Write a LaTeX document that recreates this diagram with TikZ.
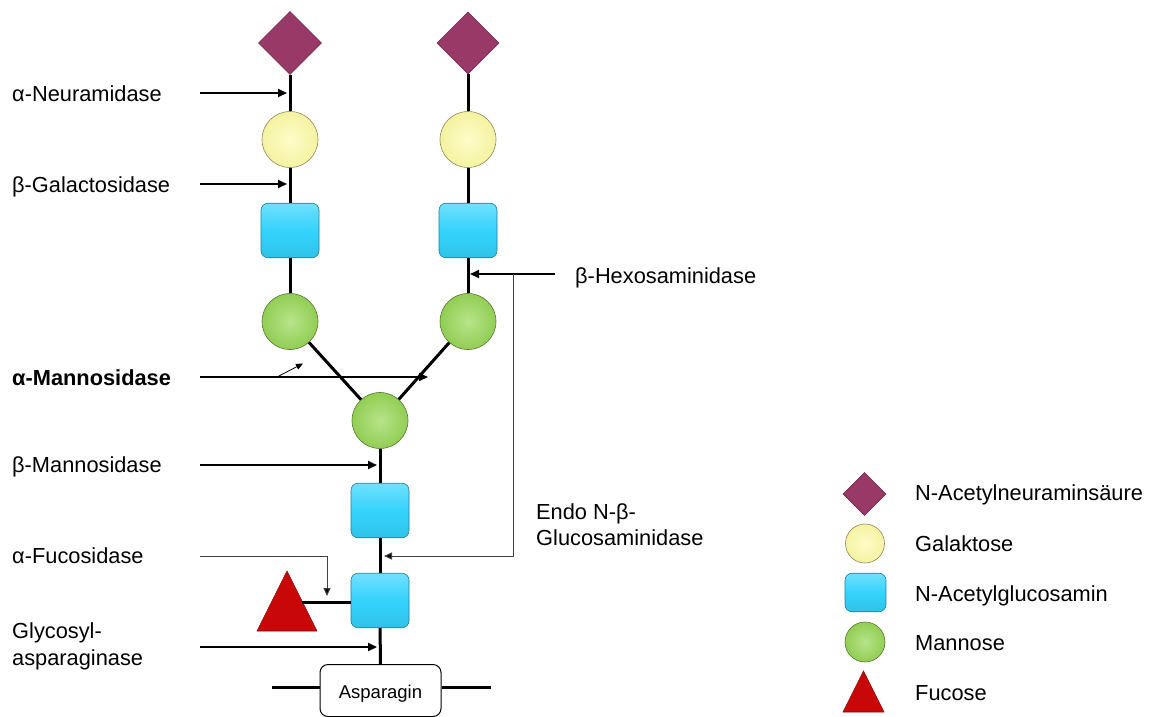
\documentclass[tikz,border=0pt]{standalone}
\usepackage{fontspec}
\setmainfont{Liberation Sans}
\usetikzlibrary{shapes.geometric,arrows.meta}
\definecolor{neu}{RGB}{152,57,104}
\definecolor{gal}{RGB}{252,250,165}
\definecolor{glc}{RGB}{52,211,252}
\definecolor{man}{RGB}{153,216,88}
\definecolor{fuc}{RGB}{200,8,8}
\tikzset{
  lbl/.style={anchor=base west,inner sep=0pt,font=\fontsize{21.8}{25}\selectfont},
  nacneu/.style={diamond,aspect=1,minimum width=#1,minimum height=#1,inner sep=0pt,fill=neu,draw=neu!80!black,line width=0.6pt},
  galball/.style={circle,minimum size=#1,inner sep=0pt,inner color=gal!60!white,outer color=gal!97!black,draw=gal!55!black,line width=0.6pt},
  glcbox/.style={rectangle,rounded corners=7pt,minimum width=#1,minimum height=0.94*#1,inner sep=0pt,top color=glc!70!white,bottom color=glc!92!black,middle color=glc,draw=glc!60!black,line width=0.6pt},
  manball/.style={circle,minimum size=#1,inner sep=0pt,inner color=man!70!white,outer color=man!95!black,draw=man!55!black,line width=0.6pt},
  bond/.style={line width=3pt},
  enz/.style={line width=1.8pt,-{Triangle[length=9pt,width=8pt]}},
  thinenz/.style={line width=1pt,draw=black!75,-{Triangle[length=8pt,width=7pt,fill=black]}},
}
\begin{document}
\begin{tikzpicture}[x=1pt,y=-1pt]
\useasboundingbox (0,0) rectangle (1151,716);
% left branch
\node[nacneu=63] (s1) at (290,43) {};
\node[galball=56] (g1) at (290,139.5) {};
\node[glcbox=58] (n1) at (290,230.5) {};
\node[manball=56] (m1) at (290,321.5) {};
% right branch
\node[nacneu=62] (s2) at (468,43) {};
\node[galball=56] (g2) at (468,139.5) {};
\node[glcbox=58] (n2) at (468,230.5) {};
\node[manball=56] (m2) at (468,321.5) {};
% core
\node[manball=56] (m0) at (380,420.5) {};
\node[glcbox=58] (c1) at (380,510.5) {};
\node[glcbox=58] (c2) at (380,600.5) {};
\draw[fill=fuc,draw=fuc!70!black,line width=0.6pt] (257,631) -- (287,571) -- (317,631) -- cycle;
\coordinate (fu) at (302,602);
\node[rectangle,rounded corners=8pt,draw,line width=1pt,minimum width=121,minimum height=52,inner sep=0pt] (asn) at (380.5,690.5) {};
\node[anchor=base,inner sep=0pt,font=\fontsize{18.5}{22}\selectfont] at (380.5,698) {Asparagin};
\coordinate (al) at (272,687);
\coordinate (ar) at (491,687);
% bonds
\begin{scope}[bond]
\draw (s1) -- (g1); \draw (g1) -- (n1); \draw (n1) -- (m1);
\draw (s2) -- (g2); \draw (g2) -- (n2); \draw (n2) -- (m2);
\draw (m1) -- (m0); \draw (m2) -- (m0);
\draw (m0) -- (c1); \draw (c1) -- (c2); \draw (c2) -- (asn);
\draw (fu) -- (fu -| c2.west);
\draw (al) -- (al -| asn.west); \draw (ar -| asn.east) -- (ar);
\end{scope}
% enzymes
\node[lbl] (t1) at (12,101) {α-Neuramidase};
\node[lbl] (t2) at (12,192) {β-Galactosidase};
\node[lbl] (t3) at (12,385) {\bfseries α-Mannosidase};
\node[lbl] (t4) at (12,472) {β-Mannosidase};
\node[lbl] (t5) at (12,563) {α-Fucosidase};
\node[lbl] (t6) at (12,638) {Glycosyl-};
\node[lbl] (t6b) at (12,665) {asparaginase};
\node[lbl] (t7) at (575,283) {β-Hexosaminidase};
\node[lbl] (t8) at (536,519) {Endo N-β-};
\node[lbl] (t8b) at (536,545) {Glucosaminidase};
\coordinate (a1s) at (200,93);  \coordinate (a1e) at (287,93);
\coordinate (a2s) at (200,184); \coordinate (a2e) at (287,184);
\coordinate (a3s) at (200,377); \coordinate (a3e) at (428,377);
\coordinate (a3b) at (277,377); \coordinate (a3c) at (303,363.5);
\coordinate (a4s) at (200,465); \coordinate (a4e) at (377,465);
\coordinate (a5s) at (200,556); \coordinate (a5k) at (327,556); \coordinate (a5e) at (327,596);
\coordinate (a6s) at (200,647); \coordinate (a6e) at (377,647);
\coordinate (a7s) at (555,274); \coordinate (a7e) at (470,274);
\coordinate (a8s) at (513,274); \coordinate (a8k) at (513,556); \coordinate (a8e) at (384,556);
\draw[enz] (a1s) -- (a1e);
\draw[enz] (a2s) -- (a2e);
\draw[enz] (a3s) -- (a3e);
\draw[line width=0.8pt,-{Triangle[length=7pt,width=6pt]}] (a3b) -- (a3c);
\draw[enz] (a4s) -- (a4e);
\draw[thinenz] (a5s) -- (a5k) -- (a5e);
\draw[enz] (a6s) -- (a6e);
\draw[enz] (a7s) -- (a7e);
\draw[thinenz] (a8s) -- (a8k) -- (a8e);
% legend
\node[nacneu=43] (l1) at (864.5,494) {};
\node[galball=39] (l2) at (865,543.5) {};
\node[glcbox=41] (l3) at (865.5,592.5) {};
\node[manball=40] (l4) at (865,642) {};
\draw[fill=fuc,draw=fuc!70!black,line width=0.6pt] (843,712) -- (863.5,671) -- (884,712) -- cycle;
\node[lbl] (k1) at (915,500) {N-Acetylneuraminsäure};
\node[lbl] (k2) at (915,551) {Galaktose};
\node[lbl] (k3) at (915,601) {N-Acetylglucosamin};
\node[lbl] (k4) at (915,650) {Mannose};
\node[lbl] (k5) at (915,700) {Fucose};
\end{tikzpicture}
\end{document}
